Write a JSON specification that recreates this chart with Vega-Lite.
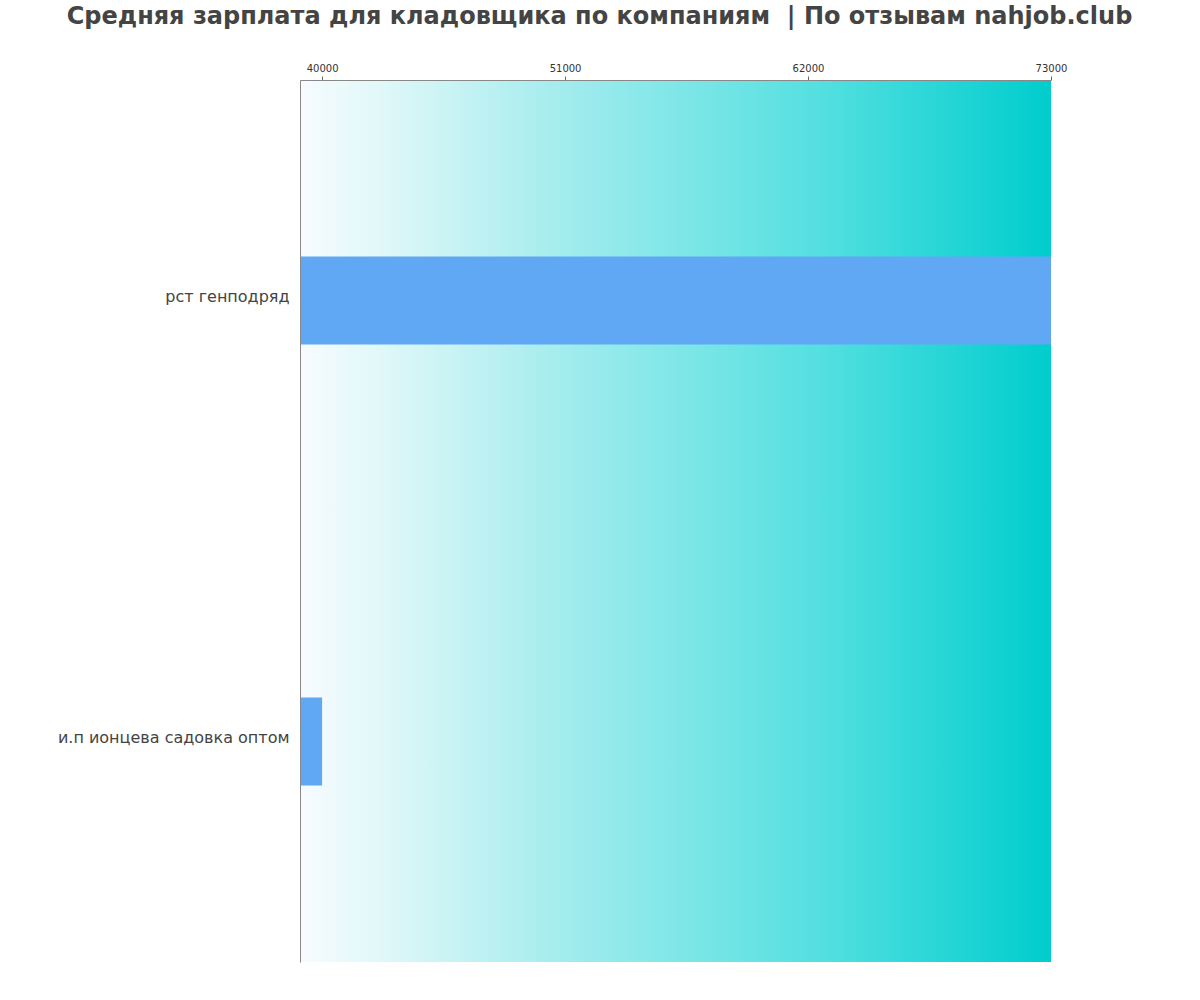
{
  "$schema": "https://vega.github.io/schema/vega-lite/v6.json",
  "autosize": "none",
  "width": 751,
  "height": 882,
  "padding": {"left": 300, "top": 80, "right": 149, "bottom": 38},
  "background": "white",
  "title": {
    "text": "Средняя зарплата для кладовщика по компаниям \u00a0| По отзывам nahjob.club",
    "font": "DejaVu Sans",
    "fontSize": 24,
    "fontWeight": "bold",
    "color": "#444444",
    "anchor": "middle",
    "dx": -76,
    "offset": 34
  },
  "config": {
    "view": {"stroke": null},
    "font": "DejaVu Sans"
  },
  "datasets": {
    "bg": [{"start": 39000, "end": 73000}],
    "salaries": [
      {"company": "рст генподряд", "salary": 73000},
      {"company": "и.п ионцева садовка оптом", "salary": 40000}
    ]
  },
  "layer": [
    {
      "data": {"name": "bg"},
      "mark": {
        "type": "rect",
        "fill": {
          "gradient": "linear",
          "x1": 0, "y1": 0, "x2": 1, "y2": 0,
          "stops": [
            {"offset": 0, "color": "#f7fbfe"},
            {"offset": 0.1, "color": "#e2f8f9"},
            {"offset": 0.35, "color": "#a3eced"},
            {"offset": 0.7, "color": "#52dfe0"},
            {"offset": 1, "color": "#00cdcd"}
          ]
        }
      },
      "encoding": {
        "x": {"field": "start", "type": "quantitative", "scale": {"domain": [39000, 73000]}},
        "x2": {"field": "end"}
      }
    },
    {
      "data": {"name": "salaries"},
      "mark": {"type": "bar", "color": "#61a8f4"},
      "encoding": {
        "y": {
          "field": "company",
          "type": "nominal",
          "sort": null,
          "scale": {"paddingInner": 0.8, "paddingOuter": 0.4},
          "axis": {
            "title": null,
            "ticks": false,
            "zindex": 1,
            "labelFont": "DejaVu Sans",
            "labelFontSize": 16,
            "labelColor": "#444444",
            "labelPadding": 11,
            "labelOffset": -4,
            "domainColor": "#888888",
            "labelLimit": 300
          }
        },
        "x": {
          "field": "salary",
          "type": "quantitative",
          "scale": {"domain": [39000, 73000], "nice": false, "zero": false},
          "axis": {
            "orient": "top",
            "title": null,
            "zindex": 1,
            "values": [40000, 51000, 62000, 73000],
            "format": "d",
            "grid": false,
            "labelFlush": false,
            "labelFont": "DejaVu Sans",
            "labelFontSize": 10,
            "labelColor": "#333333",
            "labelPadding": 3,
            "tickColor": "#666666",
            "tickSize": 4,
            "domainColor": "#888888"
          }
        },
        "x2": {"datum": 39000}
      }
    }
  ]
}
